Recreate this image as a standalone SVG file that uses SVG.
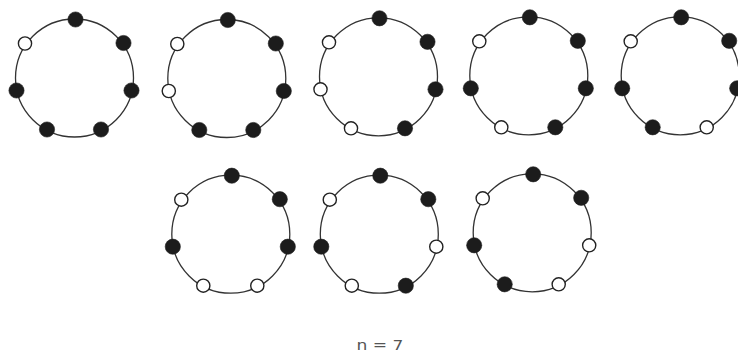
<svg xmlns="http://www.w3.org/2000/svg" width="738" height="355" viewBox="0 0 738 355">
<style>
.ring{fill:none;stroke:#333;stroke-width:1.3}
.b{fill:#1c1c1c;stroke:#1c1c1c;stroke-width:0.6}
.w{fill:#fff;stroke:#222;stroke-width:1.4}
.lbl{font-family:"DejaVu Sans",sans-serif;font-size:13.5px;fill:#555}
</style>
<defs>
<circle id="ring" class="ring" cx="0.5" cy="0" r="59"/>
</defs>
<g id="r1c1" transform="translate(74,78)">
<use href="#ring"/>
<circle class="b" cx="1.5" cy="-58.5" r="7.6"/><circle class="b" cx="49.5" cy="-35" r="7.6"/><circle class="b" cx="57.5" cy="12.5" r="7.6"/><circle class="b" cx="27" cy="51.5" r="7.6"/><circle class="b" cx="-27" cy="51.5" r="7.6"/><circle class="b" cx="-57.5" cy="12.5" r="7.6"/><circle class="w" cx="-49" cy="-34.5" r="6.6"/>
</g>
<g id="r1c2" transform="translate(226.3,78.5)">
<use href="#ring"/>
<circle class="b" cx="1.5" cy="-58.5" r="7.6"/><circle class="b" cx="49.5" cy="-35" r="7.6"/><circle class="b" cx="57.5" cy="12.5" r="7.6"/><circle class="b" cx="27" cy="51.5" r="7.6"/><circle class="b" cx="-27" cy="51.5" r="7.6"/><circle class="w" cx="-57.5" cy="12.5" r="6.6"/><circle class="w" cx="-49" cy="-34.5" r="6.6"/>
</g>
<g id="r1c3" transform="translate(378,76.8)">
<use href="#ring"/>
<circle class="b" cx="1.5" cy="-58.5" r="7.6"/><circle class="b" cx="49.5" cy="-35" r="7.6"/><circle class="b" cx="57.5" cy="12.5" r="7.6"/><circle class="b" cx="27" cy="51.5" r="7.6"/><circle class="w" cx="-27" cy="51.5" r="6.6"/><circle class="w" cx="-57.5" cy="12.5" r="6.6"/><circle class="w" cx="-49" cy="-34.5" r="6.6"/>
</g>
<g id="r1c4" transform="translate(528.3,75.8)">
<use href="#ring"/>
<circle class="b" cx="1.5" cy="-58.5" r="7.6"/><circle class="b" cx="49.5" cy="-35" r="7.6"/><circle class="b" cx="57.5" cy="12.5" r="7.6"/><circle class="b" cx="27" cy="51.5" r="7.6"/><circle class="w" cx="-27" cy="51.5" r="6.6"/><circle class="b" cx="-57.5" cy="12.5" r="7.6"/><circle class="w" cx="-49" cy="-34.5" r="6.6"/>
</g>
<g id="r1c5" transform="translate(679.7,75.8)">
<use href="#ring"/>
<circle class="b" cx="1.5" cy="-58.5" r="7.6"/><circle class="b" cx="49.5" cy="-35" r="7.6"/><circle class="b" cx="57.5" cy="12.5" r="7.6"/><circle class="w" cx="27" cy="51.5" r="6.6"/><circle class="b" cx="-27" cy="51.5" r="7.6"/><circle class="b" cx="-57.5" cy="12.5" r="7.6"/><circle class="w" cx="-49" cy="-34.5" r="6.6"/>
</g>
<g id="r2c1" transform="translate(230.3,234.2)">
<use href="#ring"/>
<circle class="b" cx="1.5" cy="-58.5" r="7.6"/><circle class="b" cx="49.5" cy="-35" r="7.6"/><circle class="b" cx="57.5" cy="12.5" r="7.6"/><circle class="w" cx="27" cy="51.5" r="6.6"/><circle class="w" cx="-27" cy="51.5" r="6.6"/><circle class="b" cx="-57.5" cy="12.5" r="7.6"/><circle class="w" cx="-49" cy="-34.5" r="6.6"/>
</g>
<g id="r2c2" transform="translate(378.8,234.2)">
<use href="#ring"/>
<circle class="b" cx="1.5" cy="-58.5" r="7.6"/><circle class="b" cx="49.5" cy="-35" r="7.6"/><circle class="w" cx="57.5" cy="12.5" r="6.6"/><circle class="b" cx="27" cy="51.5" r="7.6"/><circle class="w" cx="-27" cy="51.5" r="6.6"/><circle class="b" cx="-57.5" cy="12.5" r="7.6"/><circle class="w" cx="-49" cy="-34.5" r="6.6"/>
</g>
<g id="r2c3" transform="translate(531.7,232.8)">
<use href="#ring"/>
<circle class="b" cx="1.5" cy="-58.5" r="7.6"/><circle class="b" cx="49.5" cy="-35" r="7.6"/><circle class="w" cx="57.5" cy="12.5" r="6.6"/><circle class="w" cx="27" cy="51.5" r="6.6"/><circle class="b" cx="-27" cy="51.5" r="7.6"/><circle class="b" cx="-57.5" cy="12.5" r="7.6"/><circle class="w" cx="-49" cy="-34.5" r="6.6"/>
</g>
<g id="caption">
<text class="lbl" x="356.5" y="350" textLength="47" lengthAdjust="spacingAndGlyphs">n = 7</text>
</g>
</svg>
